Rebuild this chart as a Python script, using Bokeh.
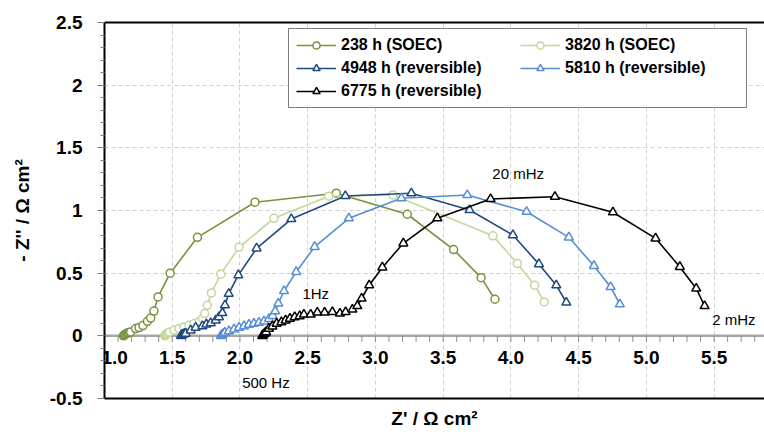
from bokeh.plotting import figure
from bokeh.models import (Range1d, LinearAxis, SingleIntervalTicker, FixedTicker,
                          Legend, LegendItem, Label, Span)
from bokeh.core.properties import value
from bokeh.embed import file_html
from bokeh.resources import INLINE
import numpy as np

# ---------------- data ----------------
labels = ["238 h (SOEC)", "3820 h (SOEC)", "4948 h (reversible)",
          "5810 h (reversible)", "6775 h (reversible)"]
colors = ["#77933C", "#C3D69B", "#1F497D", "#558ED5", "#000000"]
markers = ["circle", "circle", "triangle", "triangle", "triangle"]

s1_x = [1.140, 1.145, 1.150, 1.158, 1.166, 1.175, 1.184, 1.193, 1.230, 1.255, 1.284, 1.317,
        1.341, 1.365, 1.395, 1.485, 1.686, 2.111, 2.711, 3.235, 3.577, 3.780, 3.882]
s1_y = [0.000, 0.005, 0.010, 0.015, 0.020, 0.024, 0.027, 0.030, 0.058, 0.066, 0.082, 0.116,
        0.142, 0.198, 0.310, 0.500, 0.786, 1.066, 1.138, 0.970, 0.688, 0.464, 0.292]

s2_x = [1.445, 1.450, 1.456, 1.462, 1.470, 1.481, 1.513, 1.550, 1.587, 1.624, 1.661, 1.703,
        1.723, 1.739, 1.759, 1.789, 1.858, 1.993, 2.251, 2.655, 3.129, 3.867, 4.047, 4.175, 4.246]
s2_y = [0.000, 0.006, 0.012, 0.018, 0.024, 0.030, 0.044, 0.058, 0.070, 0.084, 0.098, 0.116,
        0.138, 0.178, 0.244, 0.342, 0.492, 0.706, 0.938, 1.114, 1.124, 0.798, 0.578, 0.404, 0.270]

s3_x = [1.565, 1.570, 1.576, 1.582, 1.590, 1.599, 1.636, 1.673, 1.723, 1.752, 1.784, 1.821,
        1.845, 1.870, 1.889, 1.917, 1.988, 2.123, 2.379, 2.778, 3.265, 3.695, 4.015, 4.207,
        4.335, 4.409]
s3_y = [0.000, 0.006, 0.010, 0.013, 0.016, 0.018, 0.044, 0.066, 0.078, 0.092, 0.102, 0.124,
        0.150, 0.182, 0.244, 0.336, 0.484, 0.698, 0.932, 1.116, 1.138, 1.004, 0.804, 0.572,
        0.404, 0.266]

s4_x = [1.860, 1.865, 1.872, 1.880, 1.889, 1.919, 1.956, 1.993, 2.030, 2.066, 2.103, 2.140,
        2.177, 2.214, 2.241, 2.260, 2.283, 2.325, 2.415, 2.551, 2.804, 3.191, 3.678, 4.116,
        4.428, 4.613, 4.736, 4.804]
s4_y = [0.000, 0.007, 0.013, 0.019, 0.026, 0.038, 0.052, 0.066, 0.078, 0.090, 0.098, 0.106,
        0.116, 0.136, 0.160, 0.196, 0.258, 0.358, 0.510, 0.710, 0.938, 1.098, 1.124, 0.990,
        0.786, 0.558, 0.390, 0.252]

s5_x = [2.165, 2.170, 2.175, 2.182, 2.188, 2.193, 2.214, 2.239, 2.271, 2.306, 2.337, 2.369,
        2.404, 2.441, 2.472, 2.522, 2.571, 2.625, 2.682, 2.738, 2.780, 2.830, 2.866, 2.898,
        2.954, 3.051, 3.206, 3.457, 3.850, 4.325, 4.753, 5.068, 5.247, 5.368, 5.430]
s5_y = [0.000, 0.006, 0.012, 0.018, 0.024, 0.030, 0.058, 0.076, 0.098, 0.110, 0.124, 0.138,
        0.150, 0.158, 0.170, 0.170, 0.186, 0.186, 0.190, 0.178, 0.190, 0.210, 0.238, 0.298,
        0.404, 0.546, 0.738, 0.938, 1.092, 1.110, 0.986, 0.778, 0.550, 0.378, 0.238]

xs = [s1_x, s2_x, s3_x, s4_x, s5_x]
ys = [s1_y, s2_y, s3_y, s4_y, s5_y]

xticks = [1.0, 1.5, 2.0, 2.5, 3.0, 3.5, 4.0, 4.5, 5.0, 5.5]
xtick_labels = ["1.0", "1.5", "2.0", "2.5", "3.0", "3.5", "4.0", "4.5", "5.0", "5.5"]
yticks = [-0.5, 0.0, 0.5, 1.0, 1.5, 2.0, 2.5]
ytick_labels = ["-0.5", "0", "0.5", "1", "1.5", "2", "2.5"]

annotations = [("20 mHz", 3.863, 1.292), ("1Hz", 2.461, 0.338),
               ("2 mHz", 5.486, 0.132), ("500 Hz", 2.016, -0.372)]

FONT = "Liberation Sans"

# ---------------- figure ----------------
p = figure(width=764, height=432, output_backend="svg", toolbar_location=None,
           x_range=Range1d(1.0, 5.872), y_range=Range1d(-0.5, 2.5),
           min_border_left=104, min_border_right=0, min_border_top=22,
           min_border_bottom=34, background_fill_color="white",
           border_fill_color="white")
p.outline_line_color = None

# bottom axis: only frame line + title
xa = p.xaxis[0]
xa.ticker = FixedTicker(ticks=[])
xa.axis_label = "Z' / Ω cm²"
xa.axis_label_text_font = FONT
xa.axis_label_text_font_style = "bold"
xa.axis_label_text_font_size = "19px"
xa.axis_label_text_color = "black"
xa.axis_label_standoff = 9
xa.axis_line_color = "black"
xa.axis_line_width = 2
xa.major_tick_out = 0
xa.major_tick_in = 0
xa.minor_tick_out = 0
xa.minor_tick_in = 0
xa.major_label_standoff = 0

# top frame line
top = LinearAxis(ticker=FixedTicker(ticks=[]), axis_line_color="black", axis_line_width=2,
                 major_tick_out=0, major_tick_in=0, minor_tick_out=0, minor_tick_in=0,
                 major_label_standoff=0)
p.add_layout(top, "above")

# left axis
ya = p.yaxis[0]
ya.ticker = SingleIntervalTicker(interval=0.5, num_minor_ticks=5)
ya.major_label_overrides = {t: l for t, l in zip(yticks, ytick_labels)}
ya.major_label_text_font = FONT
ya.major_label_text_font_style = "bold"
ya.major_label_text_font_size = "19px"
ya.major_label_text_color = "black"
ya.major_label_standoff = 15
ya.axis_line_color = "black"
ya.axis_line_width = 2
ya.major_tick_out = 7
ya.major_tick_in = 0
ya.minor_tick_out = 4
ya.minor_tick_in = 0
ya.major_tick_line_color = "#7F7F7F"
ya.minor_tick_line_color = "#7F7F7F"
ya.axis_label = "- Z'' / Ω cm²"
ya.axis_label_text_font = FONT
ya.axis_label_text_font_style = "bold"
ya.axis_label_text_font_size = "19px"
ya.axis_label_text_color = "black"
ya.axis_label_standoff = 14

# grids
p.xgrid.ticker = FixedTicker(ticks=xticks[1:])
for g in (p.xgrid[0], p.ygrid[0]):
    g.grid_line_color = "#D0D0D0"
    g.grid_line_dash = "4 3"
    g.grid_line_width = 1

# x axis drawn at y = 0
p.add_layout(Span(location=0, dimension="width", line_color="#A6A6A6", line_width=2.5,
                  level="underlay"))
minor_x = np.round(np.arange(1.1, 5.85, 0.1), 2)
tick_len = 0.048
p.segment(x0=minor_x, y0=0, x1=minor_x, y1=-tick_len, line_color="#8C8C8C", line_width=1)

label_y = -0.172
p.text(x=xticks[1:], y=label_y, text=xtick_labels[1:], text_font=value(FONT),
       text_font_style="bold", text_font_size="19px", text_align="center",
       text_baseline="middle", text_color="black")
p.text(x=xticks[:1], y=label_y, text=xtick_labels[:1], text_font=value(FONT),
       text_font_style="bold", text_font_size="19px", text_align="left", x_offset=-3,
       text_baseline="middle", text_color="black")

# series
items = []
for lab, col, mk, x, y in zip(labels, colors, markers, xs, ys):
    lr = p.line(x, y, line_color=col, line_width=1.6)
    sr = p.scatter(x, y, marker=mk, size=8 if mk == "circle" else 9, line_color=col,
                   line_width=1.5, fill_color="white")
    items.append(LegendItem(label=lab, renderers=[lr, sr]))

legend = Legend(items=items, orientation="horizontal", ncols=2, location=(184, 290),
                padding=7, spacing=5, glyph_width=40, glyph_height=18, label_height=18,
                label_width=174, label_standoff=5, border_line_color="black",
                border_line_width=1, background_fill_color="white", background_fill_alpha=1,
                label_text_font=FONT, label_text_font_style="bold",
                label_text_font_size="16px", label_text_color="black", margin=0)
p.add_layout(legend)

for txt, ax, ay in annotations:
    p.add_layout(Label(x=ax, y=ay, text=txt, text_font=FONT, text_font_size="15px",
                       text_align="left", text_baseline="middle", text_color="black"))

open("out.html", "w").write(file_html(p, INLINE))
